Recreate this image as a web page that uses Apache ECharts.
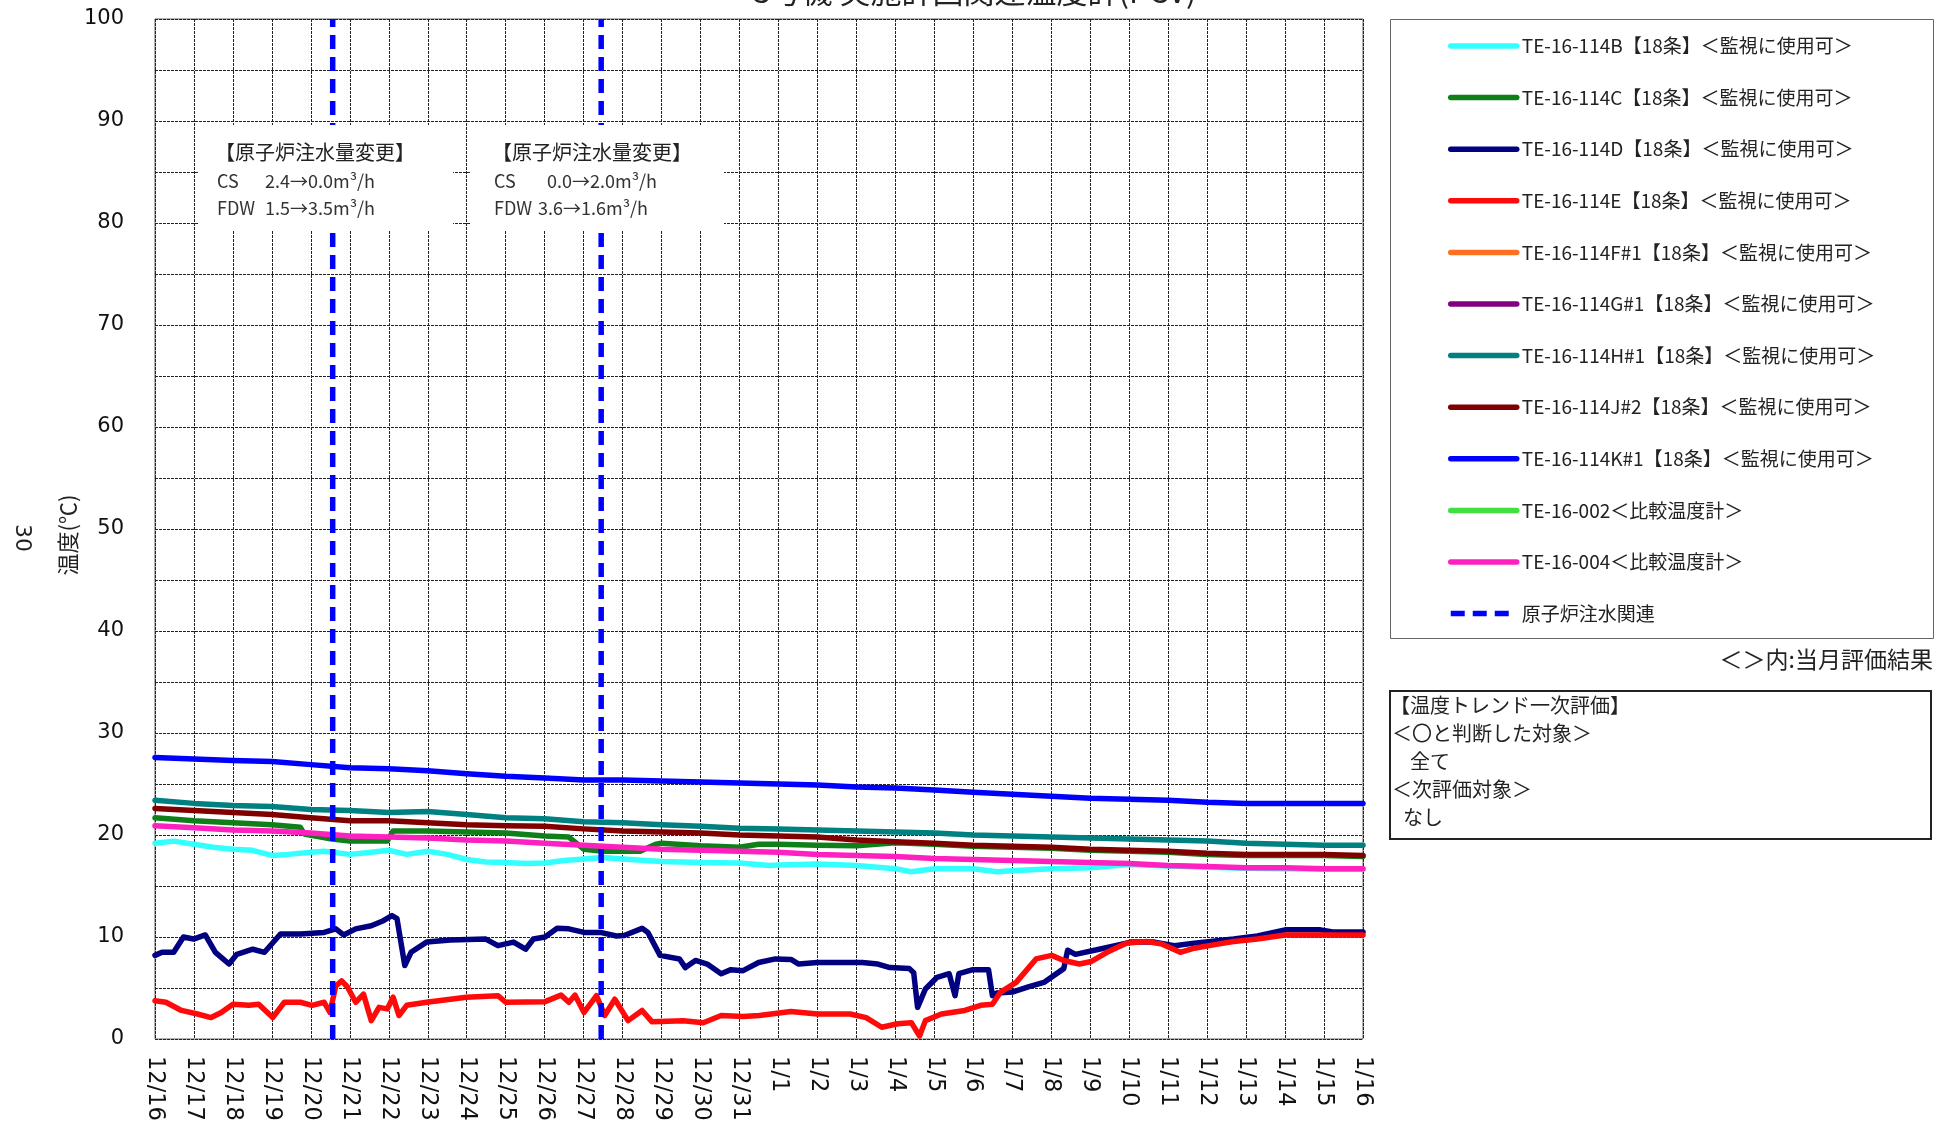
<!DOCTYPE html>
<html><head><meta charset="utf-8">
<script src="https://cdn.jsdelivr.net/npm/echarts@6/dist/echarts.min.js"></script>
<style>html,body{margin:0;padding:0;background:#fff}#c{width:1949px;height:1125px}</style>
</head><body><div id="c"></div>
<script>
// ---- tick labels ----
const dateLabels = ['12/16','12/17','12/18','12/19','12/20','12/21','12/22','12/23','12/24','12/25','12/26','12/27','12/28','12/29','12/30','12/31',
  '1/1','1/2','1/3','1/4','1/5','1/6','1/7','1/8','1/9','1/10','1/11','1/12','1/13','1/14','1/15','1/16'];

// ---- series names ----
const names = ['TE-16-114B【18条】＜監視に使用可＞','TE-16-114C【18条】＜監視に使用可＞','TE-16-114D【18条】＜監視に使用可＞','TE-16-114E【18条】＜監視に使用可＞',
  'TE-16-114F#1【18条】＜監視に使用可＞','TE-16-114G#1【18条】＜監視に使用可＞','TE-16-114H#1【18条】＜監視に使用可＞','TE-16-114J#2【18条】＜監視に使用可＞',
  'TE-16-114K#1【18条】＜監視に使用可＞','TE-16-002＜比較温度計＞','TE-16-004＜比較温度計＞','原子炉注水関連'];

// ---- values (x = days since 12/16 00:00) ----
const bTimes = [0,0.48,1,1.5,2,2.5,3,3.42,4,4.34,5,5.55,6,6.46,7,7.5,8,8.49,9,9.5,10,10.5,11,11.5,12,13,14,15,15.77,16,17,18,19,19.4,20,21,21.6,22,23,24,25,26,27,28,29,30,31];
const bVals  = [19.2,19.4,19.1,18.8,18.6,18.5,18.0,18.1,18.3,18.4,18.1,18.3,18.5,18.1,18.4,18.1,17.6,17.35,17.3,17.2,17.25,17.5,17.65,17.8,17.65,17.4,17.3,17.25,17.0,17.05,17.15,17.0,16.7,16.4,16.7,16.7,16.4,16.5,16.7,16.8,17.1,16.95,16.85,16.75,16.7,16.65,16.65];

const cTimes = [0,1,2,3,3.73,3.83,4.54,5,5.96,6.11,7,8,9,10,10.62,11.01,11.5,12.45,12.85,13,14,15,15.49,16,17,18,19,20,21,22,23,24,25,26,27,28,29,30,31];
const cVals  = [21.7,21.4,21.2,21.0,20.75,20.1,19.6,19.4,19.4,20.4,20.4,20.3,20.2,19.9,19.8,18.6,18.4,18.4,19.1,19.2,18.95,18.8,19.1,19.1,19.0,18.95,19.25,19.1,18.9,18.8,18.7,18.5,18.4,18.3,18.1,18.0,18.0,18.0,17.9];

const dTimes = [0,0.18,0.48,0.73,0.99,1.29,1.55,1.9,2.1,2.51,2.81,3.22,3.73,4.34,4.64,4.84,5.15,5.55,5.86,6.08,6.21,6.41,6.57,6.97,7.58,8.49,8.8,9.2,9.51,9.71,10.01,10.32,10.62,11.01,11.43,11.84,12.04,12.5,12.65,12.96,13.46,13.61,13.87,14.17,14.53,14.78,15.09,15.49,15.92,16.32,16.52,17.0,17.54,18.15,18.55,18.86,19.36,19.47,19.57,19.77,20.07,20.38,20.53,20.63,20.99,21.39,21.49,21.6,22.0,22.41,22.81,23.32,23.42,23.62,24.23,24.64,25.04,25.65,26.16,26.67,27.68,28.29,29.0,29.91,30.22,31];
const dVals  = [8.2,8.5,8.5,10.0,9.8,10.2,8.5,7.35,8.3,8.8,8.5,10.3,10.3,10.45,10.8,10.2,10.8,11.1,11.6,12.1,11.8,7.2,8.5,9.5,9.7,9.8,9.15,9.5,8.8,9.8,10.0,10.85,10.8,10.45,10.45,10.1,10.15,10.85,10.45,8.2,7.85,7.0,7.7,7.35,6.4,6.8,6.7,7.5,7.85,7.8,7.35,7.5,7.5,7.5,7.35,7.0,6.9,6.5,3.1,4.9,6.05,6.4,4.25,6.4,6.8,6.8,4.25,4.5,4.6,5.1,5.55,6.9,8.7,8.3,8.8,9.15,9.5,9.5,9.15,9.4,9.8,10.1,10.7,10.7,10.5,10.5];

const eTimes = [0,0.28,0.68,1.09,1.44,1.7,2.0,2.41,2.66,3.02,3.32,3.73,4.03,4.34,4.49,4.64,4.79,4.94,5.15,5.35,5.55,5.75,5.96,6.11,6.26,6.46,6.97,7.99,8.8,9.0,10.01,10.42,10.62,10.78,11.01,11.33,11.54,11.8,12.14,12.5,12.75,13.56,14.07,14.53,15.09,15.51,16.32,17.0,17.84,18.25,18.65,19.06,19.41,19.62,19.77,20.18,20.78,21.19,21.49,21.7,22.1,22.61,23.01,23.32,23.72,24.03,24.43,24.94,25.45,25.85,26.31,26.67,27.27,27.68,28.29,29.0,29.91,31];
const eVals  = [3.75,3.6,2.8,2.45,2.1,2.6,3.4,3.3,3.4,2.1,3.6,3.6,3.3,3.6,2.6,5.2,5.7,5.1,3.6,4.4,1.8,3.1,2.95,4.1,2.3,3.3,3.6,4.1,4.25,3.6,3.66,4.3,3.6,4.3,2.6,4.25,2.3,3.9,1.8,2.8,1.7,1.8,1.6,2.3,2.2,2.3,2.7,2.45,2.45,2.1,1.15,1.5,1.6,0.3,1.8,2.45,2.8,3.3,3.4,4.6,5.55,7.85,8.2,7.7,7.35,7.6,8.5,9.4,9.55,9.3,8.5,8.9,9.3,9.55,9.8,10.2,10.2,10.2];

// series not visible in the picture (hidden under other traces)
const fVals = [];
const gVals = [];
const p002Vals = [];

// daily values, one per date label
const hDaily = [23.4,23.1,22.9,22.8,22.5,22.4,22.2,22.3,22.0,21.7,21.6,21.3,21.2,21.0,20.85,20.65,20.6,20.5,20.4,20.3,20.2,20.0,19.9,19.8,19.7,19.6,19.5,19.4,19.2,19.1,19.0,19.0];
const jDaily = [22.6,22.4,22.2,22.0,21.7,21.4,21.4,21.2,21.0,20.9,20.85,20.6,20.4,20.3,20.2,20.0,19.9,19.8,19.5,19.35,19.2,19.0,18.9,18.8,18.6,18.5,18.4,18.2,18.1,18.1,18.1,18.0];
const kDaily = [27.6,27.45,27.3,27.2,26.9,26.6,26.5,26.3,26.0,25.75,25.6,25.4,25.4,25.3,25.2,25.1,25.0,24.9,24.7,24.6,24.4,24.2,24.0,23.8,23.6,23.5,23.4,23.2,23.1,23.1,23.1,23.1];
const p004Daily = [20.9,20.7,20.5,20.4,20.2,19.9,19.8,19.7,19.5,19.4,19.2,19.0,18.8,18.6,18.5,18.4,18.3,18.1,18.0,17.9,17.7,17.6,17.5,17.4,17.3,17.2,17.0,16.9,16.8,16.8,16.7,16.7];

// injection change events (days since 12/16)
const injectionChanges = [4.56, 11.45];

const colors = ['#33FFFF','#0F7F1A','#000080','#FF0A0A','#FF7020','#800080','#008080','#800000','#0000FF','#40E040','#FF20C0','#0000FF'];

const zip = (t, v) => t.map((x, i) => [x, v[i]]);
const daily = v => v.map((y, i) => [i, y]);

const seriesData = [zip(bTimes,bVals), zip(cTimes,cVals), zip(dTimes,dVals), zip(eTimes,eVals), fVals, gVals,
  daily(hDaily), daily(jDaily), daily(kDaily), p002Vals, daily(p004Daily)];

const injData = [];
injectionChanges.forEach((d, i) => { if (i) injData.push(['-','-']); injData.push([d,0],[d,100]); });

const series = seriesData.map((data, i) => ({
  name: names[i], type: 'line', data, symbol: 'none', showSymbol: false, smooth: false,
  lineStyle: { color: colors[i], width: 5.5, join: 'round', cap: 'round' }, itemStyle: { color: colors[i] }, z: 2 + i * 0.01,
  animation: false
}));
series.push({
  name: names[11], type: 'line', data: injData, symbol: 'none', showSymbol: false, connectNulls: false,
  lineStyle: { color: colors[11], width: 5.5, type: [14, 8] }, itemStyle: { color: colors[11] }, z: 3, animation: false
});

const CJK = '"Noto Sans CJK JP"';
const gridLine = { show: true, lineStyle: { color: '#222', width: 1, type: [3, 1] } };

const txt = (x, y, text, size, opts = {}) => ({
  type: 'text', x, y, z: 110, rotation: opts.rotation || 0,
  style: { text, font: `${size}px ${opts.family || CJK}`, fill: opts.fill || '#222',
    align: opts.align || 'left', verticalAlign: 'middle' }
});

const graphics = [
  txt(975, -8.5, '3号機 実施計画関連温度計(PCV)', 31, { align: 'center' }),
  txt(68, 535, '温度(℃)', 22, { align: 'center', rotation: Math.PI / 2 }),
  txt(22, 538, '30', 22, { align: 'center', rotation: -Math.PI / 2, family: '"DejaVu Sans"' }),
  // annotation boxes
  { type: 'rect', z: 105, shape: { x: 199, y: 125, width: 254, height: 106 }, style: { fill: '#fff' } },
  { type: 'rect', z: 105, shape: { x: 470, y: 125, width: 254, height: 106 }, style: { fill: '#fff' } },
  txt(215, 152, '【原子炉注水量変更】', 20),
  txt(217, 181, 'CS', 18, { fill: '#333' }), txt(265, 181, '2.4→0.0m³/h', 18, { fill: '#333' }),
  txt(217, 208, 'FDW', 18, { fill: '#333' }), txt(265, 208, '1.5→3.5m³/h', 18, { fill: '#333' }),
  txt(492, 152, '【原子炉注水量変更】', 20),
  txt(494, 181, 'CS', 18, { fill: '#333' }), txt(547, 181, '0.0→2.0m³/h', 18, { fill: '#333' }),
  txt(494, 208, 'FDW', 18, { fill: '#333' }), txt(538, 208, '3.6→1.6m³/h', 18, { fill: '#333' }),
  // legend frame
  { type: 'rect', z: 100, shape: { x: 1390.5, y: 19.5, width: 543, height: 619 }, style: { fill: 'none', stroke: '#666', lineWidth: 1 } },
  txt(1933, 659, '＜＞内:当月評価結果', 23, { align: 'right' }),
  // evaluation box
  { type: 'rect', z: 100, shape: { x: 1390, y: 691, width: 541, height: 148 }, style: { fill: 'none', stroke: '#222', lineWidth: 2 } },
  txt(1390, 705, '【温度トレンド一次評価】', 20),
  txt(1392, 733, '＜〇と判断した対象＞', 20),
  txt(1410, 761, '全て', 20),
  txt(1392, 789, '＜次評価対象＞', 20),
  txt(1403, 817, 'なし', 20)
];

const chart = echarts.init(document.getElementById('c'), null, { renderer: 'canvas' });
chart.setOption({
  backgroundColor: '#fff',
  animation: false,
  grid: { left: 155, top: 19, width: 1208, height: 1020, show: true, borderColor: '#666', borderWidth: 1, backgroundColor: '#fff' },
  xAxis: {
    type: 'value', min: 0, max: 31, interval: 1,
    axisLine: { show: false }, axisTick: { show: false },
    axisLabel: { rotate: -90, margin: 17, fontSize: 22.5, fontFamily: 'DejaVu Sans', color: '#111',
      formatter: v => dateLabels[Math.round(v)] || '' },
    splitLine: gridLine
  },
  yAxis: {
    type: 'value', min: 0, max: 100, interval: 5,
    axisLine: { show: false }, axisTick: { show: false },
    axisLabel: { margin: 31, fontSize: 21, fontFamily: 'DejaVu Sans', color: '#111',
      formatter: v => (v % 10 === 0 ? String(v) : '') },
    splitLine: gridLine
  },
  legend: {
    orient: 'vertical', left: 1448, top: 36, padding: 0,
    itemWidth: 66, itemHeight: 14, itemGap: 31.6,
    lineStyle: { width: 5.5 },
    itemStyle: { opacity: 0 },
    textStyle: { fontFamily: 'Noto Sans CJK JP', fontSize: 19, color: '#222', lineHeight: 20 },
    data: names, selectedMode: false
  },
  series,
  graphic: graphics
});
</script></body></html>
